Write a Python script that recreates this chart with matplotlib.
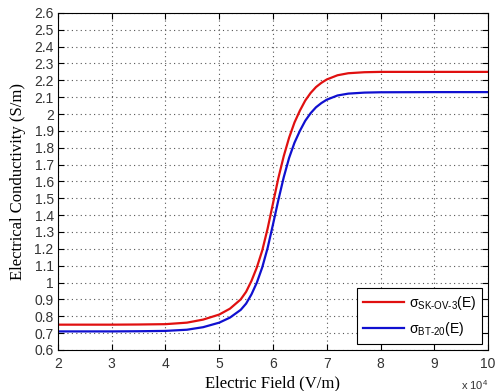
import numpy as np
import matplotlib
matplotlib.use("Agg")
import matplotlib.pyplot as plt
from matplotlib.ticker import FuncFormatter, MultipleLocator

# Electric field samples (x 10^4 V/m)
field_e4 = [2.0, 3.0, 3.5, 4.0, 4.4, 4.7, 5.0, 5.2, 5.4, 5.5, 5.6, 5.7, 5.8, 5.9,
            6.0, 6.1, 6.2, 6.3, 6.4, 6.5, 6.6, 6.7, 6.8, 6.9, 7.0, 7.2, 7.4, 7.7,
            8.0, 9.0, 10.0]

# Conductivity (S/m) for each cell line
sigma_skov3 = [0.750, 0.750, 0.751, 0.753, 0.762, 0.780, 0.810, 0.845, 0.900, 0.945,
               1.010, 1.090, 1.190, 1.320, 1.470, 1.620, 1.750, 1.860, 1.950, 2.020,
               2.080, 2.125, 2.160, 2.185, 2.205, 2.230, 2.242, 2.248, 2.250, 2.250,
               2.250]
sigma_bt20 = [0.710, 0.710, 0.711, 0.713, 0.720, 0.735, 0.762, 0.792, 0.838, 0.875,
              0.930, 1.000, 1.090, 1.205, 1.345, 1.490, 1.625, 1.740, 1.830, 1.900,
              1.960, 2.005, 2.040, 2.065, 2.085, 2.110, 2.121, 2.127, 2.129, 2.130,
              2.130]

series_labels = ["$\\mathregular{\\sigma_{SK\u2010OV\u20103}(E)}$",
                 "$\\mathregular{\\sigma_{BT\u201020}(E)}$"]

x_ticks_e4 = [2, 3, 4, 5, 6, 7, 8, 9, 10]

field = np.array(field_e4) * 1e4

fig = plt.figure(figsize=(4.95, 3.91), dpi=100)
ax = fig.add_axes([0.117, 0.105, 0.869, 0.862])

ax.plot(field, sigma_skov3, color="#e01010", lw=1.6, label=series_labels[0])
ax.plot(field, sigma_bt20, color="#1010d0", lw=1.6, label=series_labels[1])

ax.set_xlim(2e4, 10e4)
ax.set_ylim(0.6, 2.6)
ax.set_xticks([v * 1e4 for v in x_ticks_e4])
ax.xaxis.set_major_formatter(FuncFormatter(lambda v, p: "%g" % (v / 1e4)))
ax.yaxis.set_major_locator(MultipleLocator(0.1))
ax.yaxis.set_major_formatter(FuncFormatter(lambda v, p: "%g" % round(v, 1)))

ax.grid(True, linestyle=(0, (1, 3)), color="#555555", linewidth=0.8)
ax.tick_params(axis="both", direction="in", top=True, right=True, length=4,
               width=0.8, labelsize=10)
ax.tick_params(axis="x", pad=5)
ax.tick_params(axis="y", pad=3)
for lab in ax.get_xticklabels() + ax.get_yticklabels():
    lab.set_fontfamily("Liberation Sans")
    lab.set_color("#333333")
for sp in ax.spines.values():
    sp.set_linewidth(0.8)

ax.set_xlabel("Electric Field (V/m)", family="Liberation Serif", fontsize=12, labelpad=3)
ax.set_ylabel("Electrical Conductivity (S/m)", family="Liberation Serif", fontsize=12, labelpad=6)

ax.text(1.0, -0.085, "x 10$^{\\mathregular{4}}$", transform=ax.transAxes,
        ha="right", va="top", fontsize=8, family="Liberation Sans", color="#333333")

leg = ax.legend(loc="lower right", prop={"family": "Liberation Sans", "size": 10},
                frameon=True, fancybox=False, borderaxespad=0.45, handlelength=3.0,
                handletextpad=0.3, labelspacing=0.6, borderpad=0.4)
leg.get_frame().set_edgecolor("black")
leg.get_frame().set_linewidth(0.8)
leg.get_frame().set_alpha(1.0)

fig.savefig("out.png", dpi=100, facecolor="white")
